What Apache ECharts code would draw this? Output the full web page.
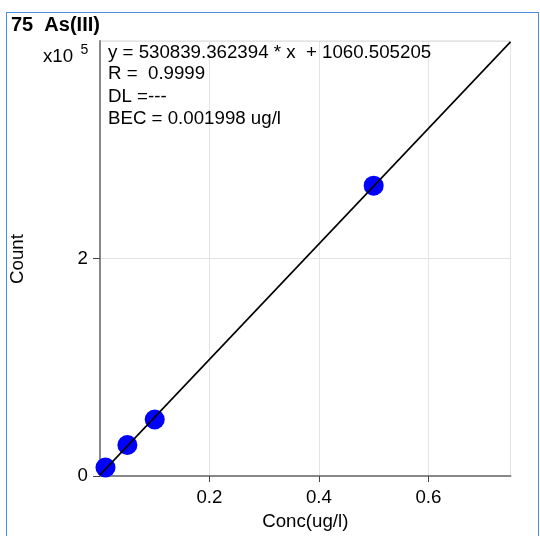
<!DOCTYPE html>
<html>
<head>
<meta charset="utf-8">
<script src="https://cdn.jsdelivr.net/npm/echarts@6/dist/echarts.min.js"></script>
<style>
html,body{margin:0;padding:0;background:#fff;}
#frame{position:absolute;left:6px;top:12px;width:533px;height:540px;border:1.5px solid #4a90e2;box-sizing:border-box;}
#chart{position:absolute;left:0;top:0;width:540px;height:536px;}
</style>
</head>
<body>
<div id="frame"></div>
<div id="chart"></div>
<script>
const concX = [0.01, 0.05, 0.1, 0.5];
const countY = [7800, 28500, 52000, 267000];
const fitX = [0, 0.75];
const fitY = [1060.505205, 399190];
const xTicks = ['0.2', '0.4', '0.6'];
const yTicks = ['0', '2'];
const titleText = '75  As(III)';
const infoLines = ['y = 530839.362394 * x  + 1060.505205', 'R =  0.9999', 'DL =---', 'BEC = 0.001998 ug/l'];

const chart = echarts.init(document.getElementById('chart'), null, {renderer: 'canvas'});
const font = 'Arial, "Liberation Sans", sans-serif';
const fs = 18.7;
const txt = (x, y, text, f, extra) => Object.assign({type: 'text', x: x, y: y, z: 100,
  style: Object.assign({text: text, font: f, fill: '#000', verticalAlign: 'middle'}, extra || {})});
const option = {
  animation: false,
  backgroundColor: 'transparent',
  grid: {left: 100, right: 29.5, top: 41, bottom: 57, show: true, borderColor: '#d9d9d9', borderWidth: 1},
  xAxis: {
    type: 'value', min: 0, max: 0.75, interval: 0.2,
    name: 'Conc(ug/l)', nameLocation: 'middle', nameGap: 36,
    nameTextStyle: {color: '#000', fontSize: fs, fontFamily: font},
    axisLine: {show: true, onZero: false, lineStyle: {color: '#888', width: 2}},
    axisTick: {show: true, length: 6, lineStyle: {color: '#444', width: 1}},
    axisLabel: {color: '#000', fontSize: fs, fontFamily: font, margin: 12, showMinLabel: false, showMaxLabel: false,
      formatter: v => { const s = v.toFixed(1); return xTicks.indexOf(s) >= 0 ? s : ''; }},
    splitLine: {show: true, lineStyle: {color: '#e3e3e3', width: 1}}
  },
  yAxis: {
    type: 'value', min: 0, max: 400000, interval: 200000,
    axisLine: {show: true, onZero: false, lineStyle: {color: '#888', width: 2}},
    axisTick: {show: true, length: 7, lineStyle: {color: '#444', width: 1}},
    axisLabel: {color: '#000', fontSize: fs, fontFamily: font, margin: 12, showMaxLabel: false,
      formatter: v => { const s = String(v / 100000); return yTicks.indexOf(s) >= 0 ? s : ''; }},
    splitLine: {show: true, lineStyle: {color: '#e3e3e3', width: 1}}
  },
  series: [
    {type: 'scatter', data: concX.map((x, i) => [x, countY[i]]), symbolSize: 20,
     itemStyle: {color: '#0000ff', opacity: 1}, z: 2, clip: false},
    {type: 'line', data: fitX.map((x, i) => [x, fitY[i]]), showSymbol: false, symbol: 'none',
     lineStyle: {color: '#000', width: 1.6}, z: 3}
  ],
  graphic: [
    txt(11, 25.5, titleText, 'bold 20px ' + font),
    txt(43, 56.5, 'x10', fs + 'px ' + font),
    txt(80.5, 50, '5', '14px ' + font),
    txt(108, 53, infoLines[0], fs + 'px ' + font),
    txt(108, 74, infoLines[1], fs + 'px ' + font),
    txt(108, 97, infoLines[2], fs + 'px ' + font),
    txt(108, 119, infoLines[3], fs + 'px ' + font),
    Object.assign(txt(18, 259, 'Count', fs + 'px ' + font, {align: 'center'}), {rotation: Math.PI / 2})
  ]
};
chart.setOption(option);
</script>
</body>
</html>
